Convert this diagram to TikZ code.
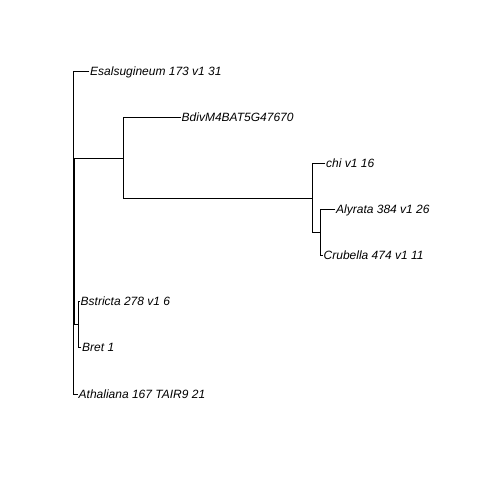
\documentclass[tikz,border=0pt]{standalone}
\usepackage{fontspec}
\setmainfont{Liberation Sans}
\begin{document}
\begin{tikzpicture}[x=1pt,y=-1pt,
  edge/.style={line width=0.75pt,black,line cap=rect},
  tiplabel/.style={anchor=base west,inner sep=0pt,font=\fontsize{12}{14}\selectfont\itshape}]
\useasboundingbox[fill=white] (0,0) rectangle (480,480);
% internal nodes
\coordinate (root) at (73,232.5);
\coordinate (A) at (74,240.6);
\coordinate (B) at (123.3,158);
\coordinate (C) at (78.5,324);
\coordinate (D) at (312.7,198);
\coordinate (E) at (320,232);
% tips
\coordinate (t1) at (89,71);
\coordinate (t2) at (180.5,117.5);
\coordinate (t3) at (325,163.3);
\coordinate (t4) at (335,209.5);
\coordinate (t5) at (322.5,255.3);
\coordinate (t6) at (79.5,301.5);
\coordinate (t7) at (81,347.5);
\coordinate (t8) at (77.5,394);
% labels
\node[tiplabel] (l1) at ([shift={(1,4.3)}]t1) {Esalsugineum 173 v1 31};
\node[tiplabel] (l2) at ([shift={(1,4.3)}]t2) {BdivM4BAT5G47670};
\node[tiplabel] (l3) at ([shift={(1,4.3)}]t3) {chi v1 16};
\node[tiplabel] (l4) at ([shift={(1,4.3)}]t4) {Alyrata 384 v1 26};
\node[tiplabel] (l5) at ([shift={(1,4.3)}]t5) {Crubella 474 v1 11};
\node[tiplabel] (l6) at ([shift={(1,4.3)}]t6) {Bstricta 278 v1 6};
\node[tiplabel] (l7) at ([shift={(1,4.3)}]t7) {Bret 1};
\node[tiplabel] (l8) at ([shift={(1,4.3)}]t8) {Athaliana 167 TAIR9 21};
% edges
\draw[edge] (root |- t1) -- (root |- t8);
\draw[edge] (root |- t1) -- (t1);
\draw[edge] (root |- A) -- (A);
\draw[edge] (root |- t8) -- (t8);
\draw[edge] (A |- B) -- (A |- C);
\draw[edge] (A |- B) -- (B);
\draw[edge] (A |- C) -- (C);
\draw[edge] (B |- t2) -- (B |- D);
\draw[edge] (B |- t2) -- (t2);
\draw[edge] (B |- D) -- (D);
\draw[edge] (D |- t3) -- (D |- E);
\draw[edge] (D |- t3) -- (t3);
\draw[edge] (D |- E) -- (E);
\draw[edge] (E |- t4) -- (E |- t5);
\draw[edge] (E |- t4) -- (t4);
\draw[edge] (E |- t5) -- (t5);
\draw[edge] (C |- t6) -- (C |- t7);
\draw[edge] (C |- t6) -- (t6);
\draw[edge] (C |- t7) -- (t7);
\end{tikzpicture}
\end{document}
